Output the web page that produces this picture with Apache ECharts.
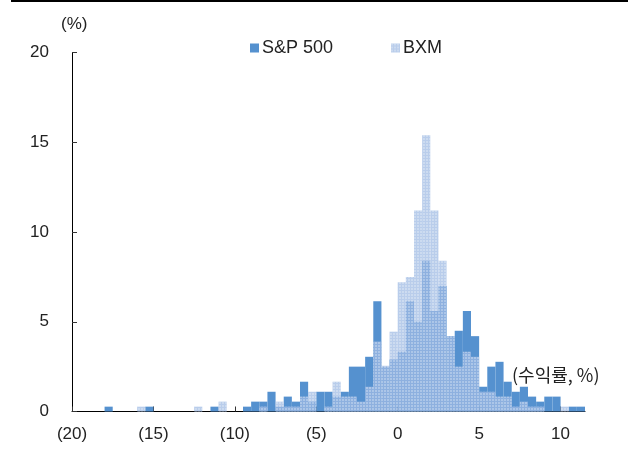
<!DOCTYPE html>
<html>
<head>
<meta charset="utf-8">
<script src="https://cdn.jsdelivr.net/npm/echarts@6/dist/echarts.min.js"></script>
<style>html,body{margin:0;padding:0;background:#fff}#c{width:639px;height:450px}</style>
</head>
<body>
<div id="c"></div>
<script>
// Bin centers (return %, bins 0.5 wide)
const binCenters = [-17.75,-15.75,-15.25,-12.25,-11.25,-10.75,-9.25,-8.75,-8.25,-7.75,-7.25,-6.75,-6.25,-5.75,-5.25,-4.75,-4.25,-3.75,-3.25,-2.75,-2.25,-1.75,-1.25,-0.75,-0.25,0.25,0.75,1.25,1.75,2.25,2.75,3.25,3.75,4.25,4.75,5.25,5.75,6.25,6.75,7.25,7.75,8.25,8.75,9.25,9.75,10.25,10.75,11.25];
// Frequency (%)
const spValues = [0.27,0,0.27,0,0.27,0,0.27,0.55,0.55,1.1,0.27,0.83,0.55,1.66,0.55,1.1,1.1,0.83,1.1,2.5,2.5,3.05,6.15,2.5,2.9,3.33,6.15,5.0,8.4,5.6,7.0,4.2,4.5,5.6,4.2,1.38,2.5,2.77,1.66,1.1,1.38,0.83,0.55,0.83,0.83,0,0.27,0.27];
const bxmValues = [0,0.27,0,0.27,0,0.55,0,0,0.27,0,0.55,0.27,0.27,0.83,1.1,0,0.27,1.66,0.83,0.83,0.55,1.38,3.9,2.55,4.45,7.2,7.5,11.2,15.4,11.2,8.4,4.2,2.5,3.33,3.05,1.1,1.1,0.83,0.83,0.27,0.55,0.27,0.27,0,0,0.27,0,0];
const xTicks = [-20,-15,-10,-5,0,5,10];
const seriesNames = ['S&P 500','BXM'];

const FONT = "'Liberation Sans', 'Noto Sans CJK KR', sans-serif";
const chart = echarts.init(document.getElementById('c'), null, {renderer:'canvas'});
const option = {
  animation: false,
  backgroundColor: '#fff',
  grid: {left: 72, right: 54, top: 52.7, bottom: 38.5, containLabel: false},
  legend: [
    {data: [seriesNames[0]], left: 245, top: 34, itemWidth: 9, itemHeight: 9, itemGap: 4,
     textStyle: {fontSize: 18, color: '#222', fontFamily: FONT, padding:[0,0,0,-2]}, icon: 'rect'},
    {data: [seriesNames[1]], left: 386, top: 34, itemWidth: 9, itemHeight: 9,
     textStyle: {fontSize: 18, color: '#222', fontFamily: FONT, padding:[0,0,0,-2]}, icon: 'rect'}
  ],
  xAxis: {
    type: 'value', min: -20, max: 11.5, interval: 5,
    splitLine: {show: false},
    axisLine: {onZero: false, lineStyle: {color: '#000', width: 1}},
    axisTick: {inside: true, length: 5, lineStyle: {color: '#333'}, customValues: xTicks},
    axisLabel: {customValues: xTicks, fontSize: 17, color: '#222', fontFamily: FONT, margin: 14,
      formatter: v => v < 0 ? '(' + (-v) + ')' : String(v)}
  },
  yAxis: {
    type: 'value', min: 0, max: 20, interval: 5,
    splitLine: {show: false},
    axisLine: {show: true, onZero: false, lineStyle: {color: '#000', width: 1}},
    axisTick: {show: true, inside: true, length: 5, lineStyle: {color: '#333'}},
    axisLabel: {fontSize: 17, color: '#222', fontFamily: FONT, margin: 23}
  },
  series: [
    {name: seriesNames[0], type: 'bar', barWidth: '100%', barGap: '-100%',
     data: binCenters.map((c, i) => [c, spValues[i]]),
     itemStyle: {color: '#5591cf'}},
    {name: seriesNames[1], type: 'bar', barWidth: '100%', barGap: '-100%',
     data: binCenters.map((c, i) => [c, bxmValues[i]]),
     itemStyle: {color: 'rgba(160,187,228,0.74)',
       decal: {symbol: 'rect', symbolSize: 1, dashArrayX: [2, 1], dashArrayY: [2, 1], color: 'rgba(255,255,255,0.28)', rotation: 0}}}
  ],
  graphic: [
    {type: 'rect', shape: {x: 11, y: 0, width: 617, height: 2}, style: {fill: '#000'}},
    {type: 'text', left: 61, top: 16, style: {text: '(%)', fontSize: 17, fill: '#222', fontFamily: FONT}},
    {type: 'text', left: 512, top: 366, style: {text: '(수익률, %)', fontSize: 18, fill: '#222', fontFamily: "'Noto Sans CJK KR', sans-serif"}}
  ]
};
chart.setOption(option);
</script>
</body>
</html>
